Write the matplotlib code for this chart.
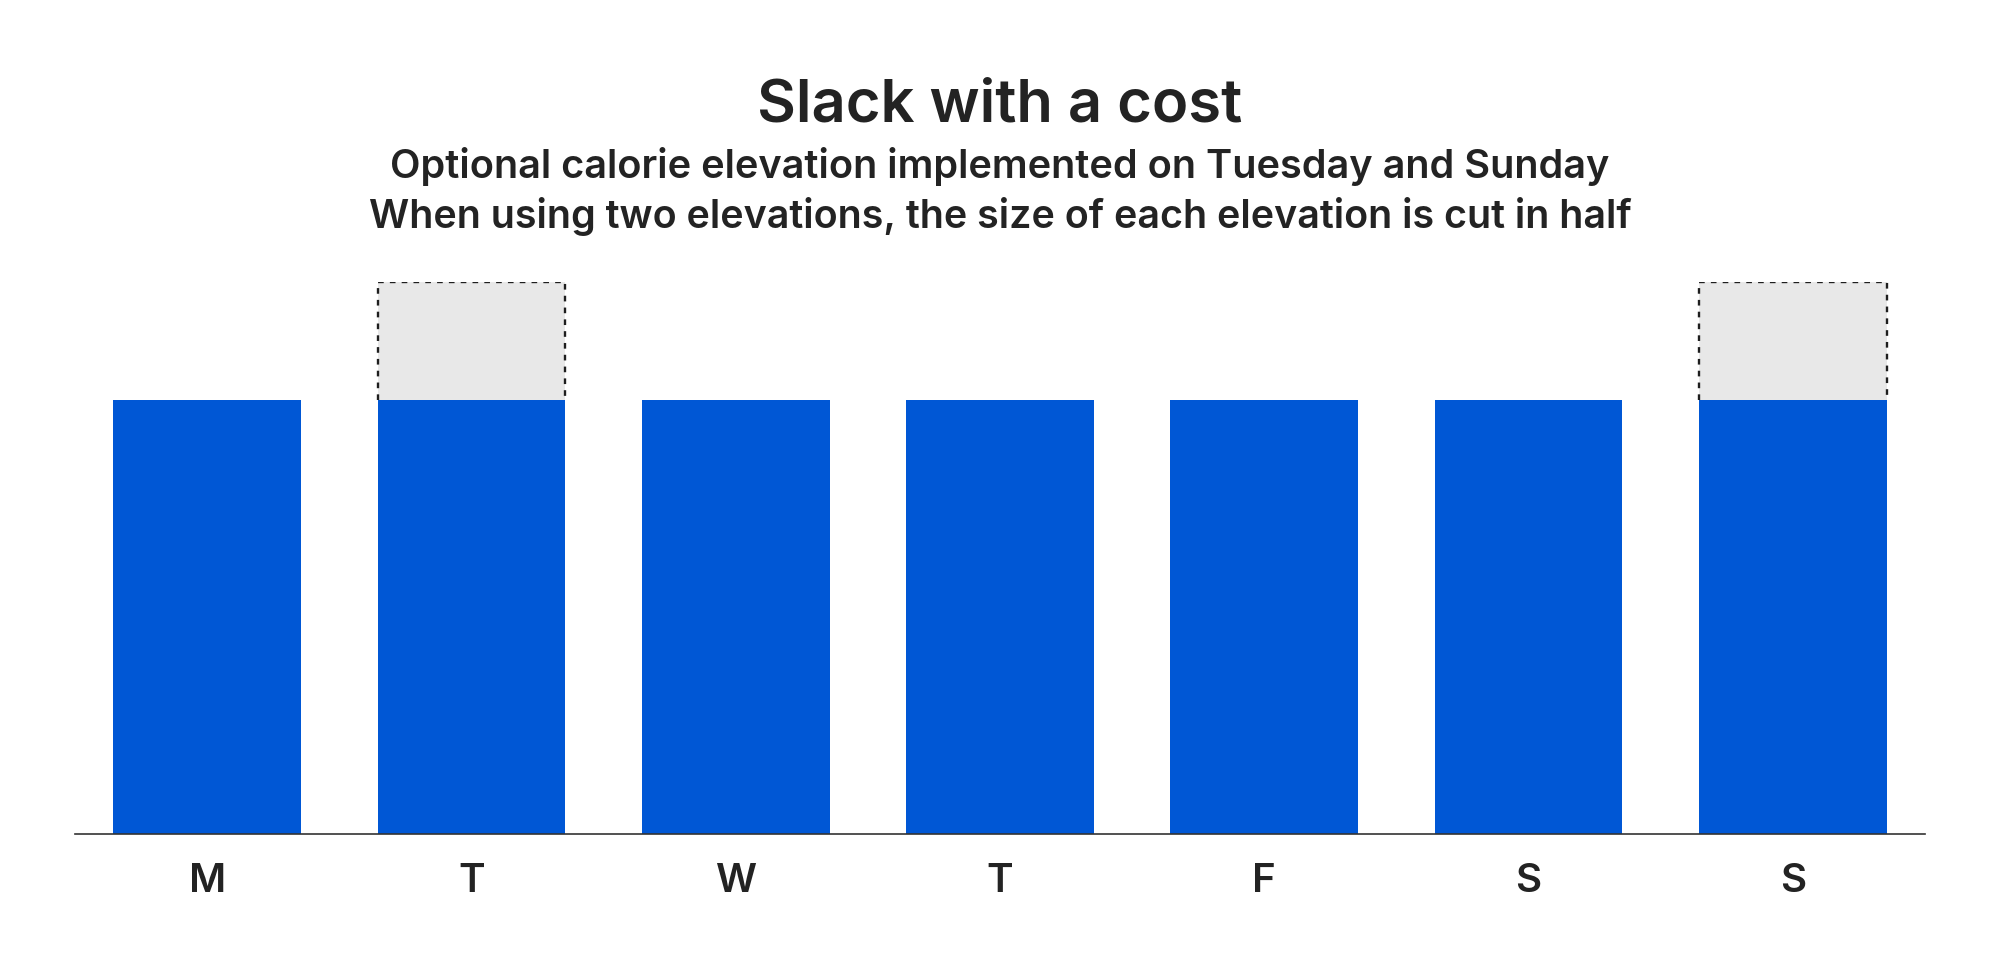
import matplotlib
matplotlib.use('Agg')
from matplotlib import pyplot as plt

days = ['M', 'T', 'W', 'T', 'F', 'S', 'S']
base_kcal = [2200, 2200, 2200, 2200, 2200, 2200, 2200]
elevation = [0, 600, 0, 0, 0, 0, 600]

blue = '#0057D5'
grey = '#E8E8E8'
ink = '#232323'
bar_w = 0.71

plt.rcParams['font.family'] = ['Inter', 'DejaVu Sans']

fig = plt.figure(figsize=(20, 9.66), dpi=100)
ax = fig.add_axes([0.0375, 0.13665, 0.925, 0.5714])

x = list(range(len(days)))
for i in x:
    if elevation[i] > 0:
        ax.bar(i, elevation[i], bottom=base_kcal[i], width=bar_w, color=grey, zorder=1)
        l = i - bar_w / 2
        r = i + bar_w / 2
        top = base_kcal[i] + elevation[i]
        ax.plot([l, l, r, r], [base_kcal[i], top, top, base_kcal[i]],
                color='#1e1e1e', lw=1.7, linestyle=(0, (2.4, 2.6)), zorder=2)
ax.bar(x, base_kcal, width=bar_w, color=blue, zorder=3)

ax.set_xlim(-0.5, 6.5)
ax.set_ylim(0, 2800)
ax.set_xticks(x)
ax.set_xticklabels(days, fontsize=29, fontweight='semibold', color=ink)
ax.tick_params(axis='x', length=0, pad=21)
ax.set_yticks([])
for s in ['top', 'right', 'left']:
    ax.spines[s].set_visible(False)
ax.spines['bottom'].set_color('#333333')
ax.spines['bottom'].set_linewidth(1.2)
ax.spines['bottom'].set_zorder(4)

fig.text(0.5, 1 - 121 / 966, 'Slack with a cost', ha='center', va='baseline',
         fontsize=43, fontweight='semibold', color=ink)
fig.text(0.5, 1 - 178 / 966, 'Optional calorie elevation implemented on Tuesday and Sunday',
         ha='center', va='baseline', fontsize=28.6, fontweight='semibold', color=ink)
fig.text(0.5, 1 - 228 / 966, 'When using two elevations, the size of each elevation is cut in half',
         ha='center', va='baseline', fontsize=28.4, fontweight='semibold', color=ink)

fig.savefig('out.png', dpi=100)
